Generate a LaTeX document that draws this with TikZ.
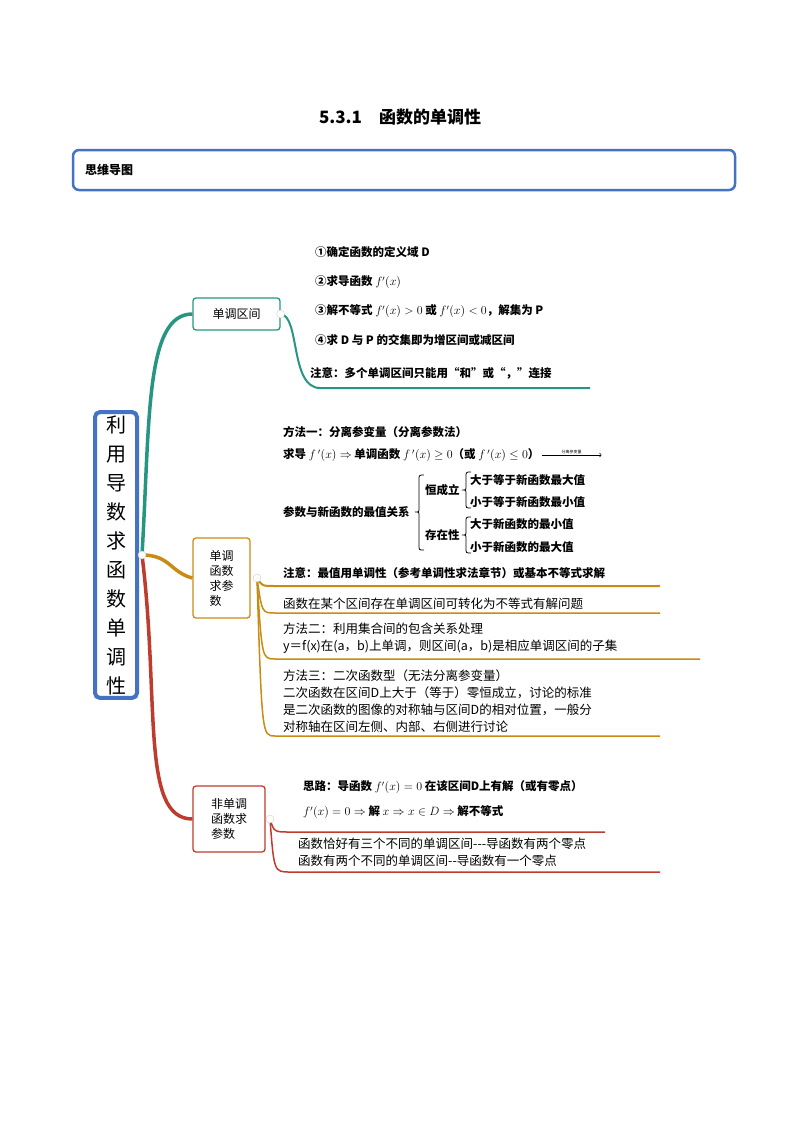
\documentclass[tikz,border=0pt]{standalone}
\usepackage{amsmath}
\usepackage{fontspec}
\setmainfont{Noto Sans CJK SC}
\usetikzlibrary{calc}
\definecolor{hblue}{RGB}{68,114,196}
\definecolor{teal1}{RGB}{38,150,130}
\definecolor{gold1}{RGB}{200,140,20}
\definecolor{red1}{RGB}{190,60,45}
\tikzset{
 txt/.style={anchor=west,inner sep=0pt,font=\fontsize{11.5}{13}\selectfont\bfseries},
 ntxt/.style={anchor=west,inner sep=0pt,font=\fontsize{12.5}{17}\selectfont,align=left},
 br/.style={rounded corners=3pt,draw,line width=1.3pt,fill=white,inner sep=0pt},
}
\begin{document}
\begin{tikzpicture}[x=1pt,y=-1pt]
\useasboundingbox (0,0) rectangle (800,1132);
\fill[white] (0,0) rectangle (800,1132);
\node[font=\fontsize{17}{20}\selectfont\bfseries] (title) at (400,117) {5.3.1\quad 函数的单调性};
\draw[hblue,line width=2.5pt,rounded corners=6pt] (73,150) rectangle (735,190);
\node[txt,font=\fontsize{12}{14}\selectfont\bfseries] (hd) at (85,170) {思维导图};
% root
\node[draw=hblue,line width=4pt,rounded corners=5pt,minimum width=42pt,minimum height=218pt,align=center,font=\fontsize{20}{29}\selectfont] (root) at (116,555) {利\\用\\导\\数\\求\\函\\数\\单\\调\\性};
% branch boxes
\node[br,draw=teal1,minimum width=87pt,minimum height=32pt,font=\fontsize{12}{14}\selectfont] (b1) at (236.5,314) {单调区间};
\node[br,draw=gold1,minimum width=57pt,minimum height=80pt,align=left,font=\fontsize{12}{15}\selectfont] (b2) at (221.5,578) {单调\\函数\\求参\\数};
\node[br,draw=red1,minimum width=72pt,minimum height=66pt,align=left,font=\fontsize{12}{15}\selectfont] (b3) at (229,819) {非单调\\函数求\\参数};
\coordinate (r0) at (142,555);
\draw[teal1,line width=3.5pt] (r0) .. controls (150,420) and (145,314) .. (b1.west);
\draw[gold1,line width=3.5pt] (r0) .. controls (170,555) and (170,572) .. (b2.west);
\draw[red1,line width=3.5pt] (r0) .. controls (160,700) and (140,819) .. (b3.west);
% branch 1 content
\coordinate (e1) at (590,388);
\draw[teal1,line width=2pt] (b1.east) .. controls (300,316) and (290,388) .. (320,388) -- (e1);
\fill[white,draw=gray!40] (b1.east) circle (4);
\node[txt] (t11) at (315,252) {①确定函数的定义域 D};
\node[txt] (t12) at (315,282) {②求导函数 $f'(x)$};
\node[txt] (t13) at (315,311) {③解不等式 $f'(x)>0$ 或 $f'(x)<0$，解集为 P};
\node[txt] (t14) at (315,340) {④求 D 与 P 的交集即为增区间或减区间};
\node[txt] (t15) at (310,373) {注意：多个单调区间只能用“和”或“，”连接};
% branch 2 content
\coordinate (s2) at (257,578);
\coordinate (u1) at (660,586);
\coordinate (u2) at (660,613);
\coordinate (u3) at (700,659);
\coordinate (u4) at (660,736);
\draw[gold1,line width=2pt] (s2) .. controls (262,586) .. (275,586) -- (u1);
\draw[gold1,line width=1.5pt] (s2) .. controls (262,613) .. (275,613) -- (u2);
\draw[gold1,line width=1.5pt] (s2) .. controls (262,659) .. (275,659) -- (u3);
\draw[gold1,line width=1.5pt] (s2) .. controls (262,736) .. (275,736) -- (u4);
\fill[white,draw=gray!40] (s2) circle (4);
\fill[white,draw=gray!40] (r0) circle (4);
\node[txt] (m1) at (283,432) {方法一：分离参变量（分离参数法）};
\node[txt] (m2) at (283,455) {求导 $f\,'(x)\Rightarrow$ 单调函数 $f\,'(x)\ge 0$（或 $f\,'(x)\le 0$）};
\coordinate (a2) at ([xshift=2pt]m2.east);
\coordinate (a3) at ([xshift=62pt]m2.east);
\draw[->,line width=0.6pt] (a2) -- node[above,inner sep=1pt,font=\fontsize{4}{5}\selectfont] (al) {分离参变量} (a3);
\node[txt] (m3) at (283,512) {参数与新函数的最值关系};
\draw[line width=0.8pt] (424,475) .. controls (419,475) .. (419,480) -- (419,508) .. controls (419,512) .. (415,512) .. controls (419,512) .. (419,516) -- (419,545) .. controls (419,550) .. (424,550);
\node[txt] (h1) at (425,490) {恒成立};
\node[txt] (h2) at (425,535) {存在性};
\draw[line width=0.8pt] (471,472) .. controls (466,472) .. (466,477) -- (466,486) .. controls (466,490) .. (462,490) .. controls (466,490) .. (466,494) -- (466,503) .. controls (466,508) .. (471,508);
\draw[line width=0.8pt] (471,517) .. controls (466,517) .. (466,522) -- (466,531) .. controls (466,535) .. (462,535) .. controls (466,535) .. (466,539) -- (466,548) .. controls (466,553) .. (471,553);
\node[txt] (k1) at (470,480) {大于等于新函数最大值};
\node[txt] (k2) at (470,502) {小于等于新函数最小值};
\node[txt] (k3) at (470,524) {大于新函数的最小值};
\node[txt] (k4) at (470,547) {小于新函数的最大值};
\node[txt] (m4) at (283,573) {注意：最值用单调性（参考单调性求法章节）或基本不等式求解};
\node[ntxt] (n1) at (283,604) {函数在某个区间存在单调区间可转化为不等式有解问题};
\node[ntxt] (n2) at (283,638) {方法二：利用集合间的包含关系处理\\y＝f(x)在(a，b)上单调，则区间(a，b)是相应单调区间的子集};
\node[ntxt] (n3) at (283,701) {方法三：二次函数型（无法分离参变量）\\二次函数在区间D上大于（等于）零恒成立，讨论的标准\\是二次函数的图像的对称轴与区间D的相对位置，一般分\\对称轴在区间左侧、内部、右侧进行讨论};
% branch 3 content
\coordinate (s3) at (270,819);
\coordinate (v1) at (605,832);
\coordinate (v2) at (660,872);
\draw[red1,line width=1.5pt] (s3) .. controls (274,832) .. (290,832) -- (v1);
\draw[red1,line width=1.5pt] (s3) .. controls (274,872) .. (290,872) -- (v2);
\fill[white,draw=gray!40] (s3) circle (4);
\node[txt] (p1) at (303,787) {思路：导函数 $f'(x)=0$ 在该区间D上有解（或有零点）};
\node[txt] (p2) at (303,812) {$f'(x)=0\Rightarrow$ 解 $x\Rightarrow x\in D\Rightarrow$ 解不等式};
\node[ntxt] (p3) at (298,852) {函数恰好有三个不同的单调区间{-}{-}{-}导函数有两个零点\\函数有两个不同的单调区间{-}{-}导函数有一个零点};
\end{tikzpicture}
\end{document}
